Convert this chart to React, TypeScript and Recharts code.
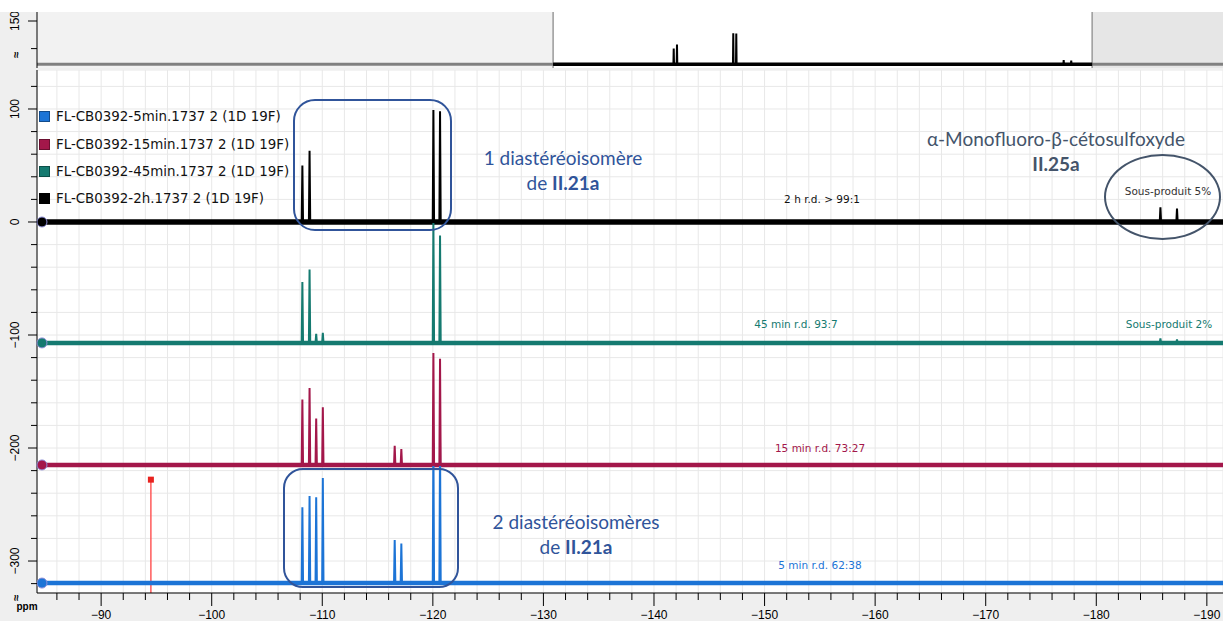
import React from "react";
import {
  LineChart, Line, XAxis, YAxis, CartesianGrid,
  ReferenceLine, ReferenceDot, ReferenceArea,
} from "recharts";

const SERIES_NAMES = [
  "FL-CB0392-5min.1737 2 (1D 19F)",
  "FL-CB0392-15min.1737 2 (1D 19F)",
  "FL-CB0392-45min.1737 2 (1D 19F)",
  "FL-CB0392-2h.1737 2 (1D 19F)",
];
const SERIES_COLORS = ["#1c74d6", "#a3174a", "#157a70", "#000000"];

// 19F signals (ppm), left to right
const PEAK_PPM = [-108.2, -108.85, -109.45, -110.05, -116.55, -117.15, -120.05, -120.65, -185.8, -187.3];
// heights per spectrum, same order as PEAK_PPM
const H_5MIN = [67, 77, 76, 93, 38, 35, 124, 124, 0, 0];
const H_15MIN = [58, 68, 41, 51, 17, 14, 99, 94, 0, 0];
const H_45MIN = [54, 65, 8, 9, 0, 0, 108, 95, 4, 3];
const H_2H = [50, 63, 0, 0, 0, 0, 99, 98, 13, 12];
const HEIGHTS = [H_5MIN, H_15MIN, H_45MIN, H_2H];
// stacking offset of each trace
const OFFSETS = [-319.5, -215, -107, 0];

const X_DOMAIN = [-191.46, -84.2];
const Y_DOMAIN = [-328.3, 134.5];
const OVERVIEW_X = [-217.5, 18.5];
const OVERVIEW_Y = [-12, 167];

const X_LABELS = [-90, -100, -110, -120, -130, -140, -150, -160, -170, -180, -190];
const X_TICKS: number[] = [];
for (let v = -86; v >= -190; v -= 2) X_TICKS.push(v);
const Y_LABELS = [100, 0, -100, -200, -300];
const Y_TICKS: number[] = [];
for (let v = -320; v <= 120; v += 20) Y_TICKS.push(v);
const OVERVIEW_TICKS = [0, 50, 100, 150];
const OVERVIEW_LABELS = [150];

const CURSOR_PPM = -94.5;
const CURSOR_Y = -228;

const RATIO_NOTES = ["5 min r.d. 62:38", "15 min r.d. 73:27", "45 min r.d. 93:7", "2 h r.d. > 99:1"];

const AXIS_FONT = "'Liberation Sans', Arial, sans-serif";

function spectrum(h: number[], off: number, from: number, to: number) {
  const pts = [{ ppm: from, v: off }];
  PEAK_PPM.forEach((p, i) => {
    if (!h[i]) return;
    pts.push({ ppm: p + 0.06, v: off }, { ppm: p, v: off + h[i] }, { ppm: p - 0.06, v: off });
  });
  pts.push({ ppm: to, v: off });
  return pts;
}

const fmt = (v: number) => String(v).replace("-", "\u2212");

const yTick = (labels: number[]) => (props: any) => {
  const { x, y, payload } = props;
  const major = labels.includes(payload.value);
  const tx = x - 18;
  return (
    <g>
      <line x1={x - (major ? 9 : 6)} x2={x} y1={y} y2={y} stroke="#000" />
      {major && (
        <text x={tx} y={y} transform={`rotate(-90 ${tx} ${y})`} textAnchor="middle"
          fontSize={12} fontFamily={AXIS_FONT} fill="#000">{fmt(payload.value)}</text>
      )}
    </g>
  );
};

const xTick = (props: any) => {
  const { x, y, payload } = props;
  const major = X_LABELS.includes(payload.value);
  return (
    <g>
      <line x1={x} x2={x} y1={y} y2={y + (major ? 13 : 7)} stroke="#000" />
      {major && (
        <text x={x} y={y + 26} textAnchor="middle" fontSize={12} fontFamily={AXIS_FONT} fill="#000">
          {fmt(payload.value)}
        </text>
      )}
    </g>
  );
};

function Note({ x, y, color, size = 10.5, bold = false, font = "'DejaVu Sans', sans-serif", children }: any) {
  return (
    <div style={{
      position: "absolute", left: x, top: y, transform: "translate(-50%, -50%)",
      color, fontSize: size, fontWeight: bold ? 700 : 400, fontFamily: font,
      whiteSpace: "nowrap", lineHeight: 1,
    }}>{children}</div>
  );
}

export default function App() {
  const traces = HEIGHTS.map((h, i) => spectrum(h, OFFSETS[i], X_DOMAIN[1], X_DOMAIN[0]));
  const overview = spectrum(H_2H, 0, X_DOMAIN[1], X_DOMAIN[0]);
  const leftGray = [{ ppm: OVERVIEW_X[1], v: 0 }, { ppm: X_DOMAIN[1], v: 0 }];
  const rightGray = [{ ppm: X_DOMAIN[0], v: 0 }, { ppm: OVERVIEW_X[0], v: 0 }];
  const calibri = "Lato, 'Open Sans', sans-serif";

  return (
    <div style={{ position: "absolute", left: 0, top: 0, width: 1223, height: 621, background: "#fff", overflow: "hidden" }}>
      <div style={{ position: "absolute", left: 0, top: 12, width: 1223, height: 609, background: "#efefef" }} />

      {/* overview strip */}
      <div style={{ position: "absolute", left: 0, top: 12 }}>
        <LineChart width={1223} height={56} margin={{ top: 0, right: 0, left: 0, bottom: 0 }}>
          <CartesianGrid horizontal={false} vertical={false} fill="#f2f2f2" />
          <XAxis type="number" dataKey="ppm" domain={OVERVIEW_X} reversed hide allowDataOverflow />
          <YAxis type="number" domain={OVERVIEW_Y} ticks={OVERVIEW_TICKS} width={37} allowDataOverflow
            tickSize={0} tickMargin={0} tick={yTick(OVERVIEW_LABELS)} axisLine={{ stroke: "#000" }} />
          <ReferenceArea x1={X_DOMAIN[1]} x2={X_DOMAIN[0]} fill="#ffffff" fillOpacity={1} />
          <ReferenceArea x1={X_DOMAIN[0]} x2={OVERVIEW_X[0]} fill="#e6e6e6" fillOpacity={1} />
          <ReferenceLine x={X_DOMAIN[1]} stroke="#9a9a9a" strokeWidth={1.5} />
          <ReferenceLine x={X_DOMAIN[0]} stroke="#9a9a9a" strokeWidth={1.5} />
          <Line data={leftGray} dataKey="v" stroke="#808080" strokeWidth={3} dot={false} isAnimationActive={false} />
          <Line data={rightGray} dataKey="v" stroke="#808080" strokeWidth={3} dot={false} isAnimationActive={false} />
          <Line data={[overview[0], overview[overview.length - 1]]} dataKey="v" stroke="#000" strokeWidth={3.5}
            dot={false} isAnimationActive={false} />
          <Line data={overview} dataKey="v" stroke="#000" strokeWidth={2} dot={false} isAnimationActive={false} />
        </LineChart>
      </div>

      {/* stacked spectra */}
      <div style={{ position: "absolute", left: 0, top: 70 }}>
        <LineChart width={1223} height={551} margin={{ top: 0, right: 0, left: 0, bottom: 0 }}>
          <CartesianGrid stroke="#e8e8e8" fill="#ffffff" />
          <XAxis type="number" dataKey="ppm" domain={X_DOMAIN} reversed ticks={X_TICKS} height={28}
            allowDataOverflow tickSize={0} tickMargin={0} tick={xTick} axisLine={{ stroke: "#000" }} interval={0} />
          <YAxis type="number" domain={Y_DOMAIN} ticks={Y_TICKS} width={37} allowDataOverflow interval={0}
            tickSize={0} tickMargin={0} tick={yTick(Y_LABELS)} axisLine={{ stroke: "#000" }} />
          <ReferenceLine segment={[{ x: CURSOR_PPM, y: CURSOR_Y }, { x: CURSOR_PPM, y: Y_DOMAIN[0] }]}
            stroke="#ff5a5a" strokeWidth={1.5} />
          <ReferenceDot x={CURSOR_PPM} y={CURSOR_Y} r={3}
            shape={(p: any) => <rect x={p.cx - 3} y={p.cy - 3} width={6} height={6} fill="#e8231f" />} />
          {traces.map((d, i) => (
            <Line key={"b" + i} data={[d[0], d[d.length - 1]]} dataKey="v" stroke={SERIES_COLORS[i]}
              strokeWidth={i === 3 ? 5.5 : 4.5} dot={false} isAnimationActive={false} />
          ))}
          {traces.map((d, i) => (
            <Line key={"s" + i} data={d} dataKey="v" name={SERIES_NAMES[i]} stroke={SERIES_COLORS[i]}
              strokeWidth={2} dot={false} isAnimationActive={false} />
          ))}
          {OFFSETS.map((o, i) => (
            <ReferenceDot key={"d" + i} x={-84.65} y={o} r={5} fill={SERIES_COLORS[i]} stroke="#8f8fd8" strokeWidth={1} />
          ))}
        </LineChart>
      </div>

      {/* legend */}
      <div style={{ position: "absolute", left: 39, top: 103, fontFamily: "'DejaVu Sans', sans-serif", fontSize: 13.4, color: "#111" }}>
        {SERIES_NAMES.map((n, i) => (
          <div key={n} style={{ display: "flex", alignItems: "center", height: 27.4 }}>
            <span style={{ width: 11, height: 11, background: SERIES_COLORS[i], marginRight: 6, boxSizing: "border-box", border: "1px solid rgba(0,0,0,0.35)" }} />
            {n}
          </div>
        ))}
      </div>

      {/* ratio notes */}
      <Note x={820} y={565} color={SERIES_COLORS[0]}>{RATIO_NOTES[0]}</Note>
      <Note x={820} y={448} color={SERIES_COLORS[1]}>{RATIO_NOTES[1]}</Note>
      <Note x={796} y={324} color={SERIES_COLORS[2]}>{RATIO_NOTES[2]}</Note>
      <Note x={822} y={199} color="#111">{RATIO_NOTES[3]}</Note>
      <Note x={1169} y={324} color={SERIES_COLORS[2]}>Sous-produit 2%</Note>
      <Note x={1168} y={191} color="#333">Sous-produit 5%</Note>

      {/* axis glyphs */}
      <Note x={27} y={607} color="#000" size={10} bold font={AXIS_FONT}>ppm</Note>
      <div style={{ position: "absolute", left: 13, top: 592, fontSize: 11, fontWeight: 700, transform: "rotate(-90deg)", fontFamily: AXIS_FONT }}>≈</div>
      <div style={{ position: "absolute", left: 13, top: 49, fontSize: 11, fontWeight: 700, transform: "rotate(-90deg)", fontFamily: AXIS_FONT }}>≈</div>

      {/* annotation boxes */}
      <div style={{ position: "absolute", left: 293, top: 99, width: 159, height: 132, border: "2.5px solid #30549a", borderRadius: 22, boxSizing: "border-box" }} />
      <div style={{ position: "absolute", left: 283, top: 468, width: 176, height: 120, border: "2.5px solid #30549a", borderRadius: 20, boxSizing: "border-box" }} />
      <div style={{ position: "absolute", left: 1104, top: 154, width: 117, height: 86, border: "2px solid #44546a", borderRadius: "50%", boxSizing: "border-box" }} />

      <Note x={563} y={157} color="#30549a" size={19} font={calibri}>1 diastéréoisomère</Note>
      <Note x={563} y={182} color="#30549a" size={19} font={calibri}>de <b>II.21a</b></Note>
      <Note x={576} y={521} color="#30549a" size={19} font={calibri}>2 diastéréoisomères</Note>
      <Note x={576} y={546} color="#30549a" size={19} font={calibri}>de <b>II.21a</b></Note>
      <Note x={1056} y={138} color="#44546a" size={19} font={calibri}>α-Monofluoro-β-cétosulfoxyde</Note>
      <Note x={1056} y={163} color="#44546a" size={19} bold font={calibri}>II.25a</Note>
    </div>
  );
}
